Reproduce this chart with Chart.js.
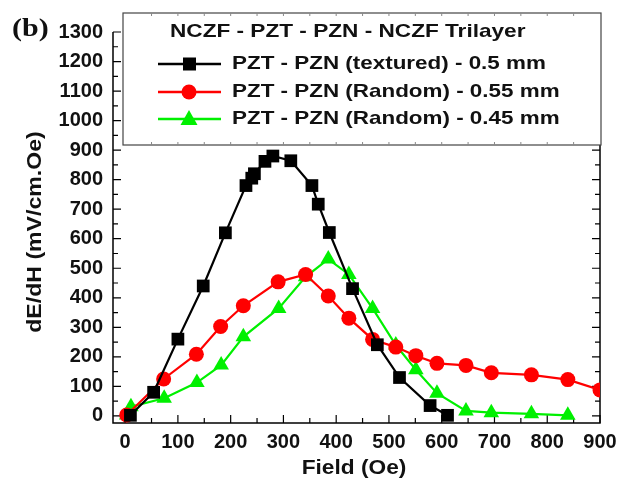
<!DOCTYPE html>
<html>
<head>
<meta charset="utf-8">
<script src="https://cdn.jsdelivr.net/npm/chart.js@4.4.1/dist/chart.umd.min.js"></script>
<style>
  html, body { margin: 0; padding: 0; background: #fff; }
  #wrap { width: 630px; height: 481px; }
</style>
</head>
<body>
<div id="wrap"><canvas id="chart" width="630" height="481"></canvas></div>
<script>
// values
const texturedField = [10, 54, 100, 148, 190, 229, 240, 245, 265, 280, 314, 354, 366, 387, 431, 478, 520, 578, 611];
const texturedValues = [2, 80, 260, 440, 620, 780, 805, 820, 862, 880, 864, 780, 717, 621, 431, 241, 130, 35, 2];

const random055Field = [3, 73, 135, 181, 224, 290, 342, 385, 424, 469, 513, 551, 591, 646, 694, 770, 839, 900];
const random055Values = [3, 125, 209, 303, 373, 454, 479, 406, 331, 259, 233, 204, 178, 171, 146, 139, 123, 88];

const random045Field = [3, 11, 74, 136, 182, 224, 291, 342, 385, 424, 469, 513, 551, 591, 646, 694, 770, 839];
const random045Values = [3, 31, 60, 113, 172, 268, 364, 471, 531, 479, 364, 240, 156, 77, 17, 11, 7, 2];

const seriesLabels = [
  'PZT - PZN (textured) - 0.5 mm',
  'PZT - PZN (Random) - 0.55 mm',
  'PZT - PZN (Random) - 0.45 mm'
];
const legendTitle = 'NCZF - PZT - PZN - NCZF Trilayer';
const xTitle = 'Field (Oe)';
const yTitle = 'dE/dH (mV/cm.Oe)';
const xTicks = [0, 100, 200, 300, 400, 500, 600, 700, 800, 900];
const yTicks = [0, 100, 200, 300, 400, 500, 600, 700, 800, 900, 1000, 1100, 1200, 1300];

const FONT = '"Liberation Sans", Arial, sans-serif';

function toPoints(xs, ys) {
  return xs.map((x, i) => ({ x: x, y: ys[i] }));
}

// text squeezed wider, like the original figure's lettering
function wideText(ctx, text, x, y, sx, rot) {
  ctx.save();
  ctx.translate(x, y);
  if (rot) ctx.rotate(rot);
  ctx.scale(sx, 1);
  ctx.fillText(text, 0, 0);
  ctx.restore();
}

// frame with inward ticks, legend box, axis titles and panel letter
const decorations = {
  id: 'decorations',
  beforeDatasetsDraw(chart) {
    const ctx = chart.ctx;
    const a = chart.chartArea;
    const xs = chart.scales.x, ys = chart.scales.y;
    ctx.save();
    ctx.strokeStyle = '#000';
    ctx.lineWidth = 1.5;
    ctx.beginPath();
    ctx.moveTo(a.left, a.top); ctx.lineTo(a.left, a.bottom); ctx.lineTo(a.right, a.bottom); ctx.lineTo(a.right, a.top);
    ctx.stroke();
    ctx.lineWidth = 1.2;
    ctx.beginPath();
    for (let v = 0; v <= 900; v += 50) {
      const px = xs.getPixelForValue(v);
      const len = v % 100 === 0 ? 8 : 5;
      ctx.moveTo(px, a.bottom); ctx.lineTo(px, a.bottom - len);
    }
    for (let v = 0; v <= 1300; v += 50) {
      const py = ys.getPixelForValue(v);
      const len = v % 100 === 0 ? 8 : 5;
      ctx.moveTo(a.left, py); ctx.lineTo(a.left + len, py);
      ctx.moveTo(a.right, py); ctx.lineTo(a.right - len, py);
    }
    ctx.stroke();
    ctx.restore();
  },
  afterDraw(chart) {
    const ctx = chart.ctx;
    const a = chart.chartArea;
    const xs = chart.scales.x;
    const box = { left: 123, top: 13, right: 601, bottom: 145 };
    ctx.save();
    ctx.fillStyle = '#fff';
    ctx.fillRect(box.left, box.top, box.right - box.left, box.bottom - box.top);
    ctx.strokeStyle = '#444';
    ctx.lineWidth = 1.2;
    ctx.strokeRect(box.left, box.top, box.right - box.left, box.bottom - box.top);
    ctx.strokeStyle = '#888';
    ctx.lineWidth = 1;
    ctx.beginPath();
    for (let v = 50; v < 900; v += 50) {
      const px = xs.getPixelForValue(v);
      ctx.moveTo(px, box.top); ctx.lineTo(px, box.top + 3);
      ctx.moveTo(px, box.bottom); ctx.lineTo(px, box.bottom - 3);
    }
    ctx.stroke();

    ctx.fillStyle = '#111';
    ctx.textBaseline = 'middle';
    ctx.textAlign = 'left';
    ctx.font = 'bold 19px ' + FONT;
    wideText(ctx, legendTitle, 170, 32, 1.19);

    const rowsY = [64, 92, 119];
    chart.data.datasets.forEach((ds, i) => {
      const y = rowsY[i];
      ctx.strokeStyle = ds.borderColor;
      ctx.lineWidth = 2.5;
      ctx.beginPath();
      ctx.moveTo(158, y); ctx.lineTo(221, y);
      ctx.stroke();
      ctx.fillStyle = ds.pointBackgroundColor;
      ctx.beginPath();
      if (ds.pointStyle === 'rect') {
        ctx.rect(183, y - 6.5, 13, 13);
      } else if (ds.pointStyle === 'circle') {
        ctx.arc(189, y, 7.5, 0, Math.PI * 2);
      } else {
        ctx.moveTo(189, y - 9); ctx.lineTo(197.5, y + 6); ctx.lineTo(180.5, y + 6); ctx.closePath();
      }
      ctx.fill();
      ctx.fillStyle = '#111';
      wideText(ctx, ds.label, 232, y, 1.18);
    });

    // axis titles
    ctx.font = 'bold 21px ' + FONT;
    ctx.textAlign = 'center';
    wideText(ctx, xTitle, 354, 468, 1.08);
    wideText(ctx, yTitle, 35, 232, 1.1, -Math.PI / 2);

    ctx.textAlign = 'left';
    ctx.font = 'bold 25px "Liberation Serif", "Times New Roman", serif';
    wideText(ctx, '(b)', 12, 30, 1.2);
    ctx.restore();
  }
};

const tickFont = { family: FONT, size: 20, weight: 'bold' };

new Chart(document.getElementById('chart'), {
  type: 'line',
  data: {
    datasets: [
      {
        label: seriesLabels[0],
        data: toPoints(texturedField, texturedValues),
        borderColor: '#000', backgroundColor: '#000', pointBackgroundColor: '#000',
        pointStyle: 'rect', pointRadius: 9, pointBorderWidth: 0, borderWidth: 2.2
      },
      {
        label: seriesLabels[1],
        data: toPoints(random055Field, random055Values),
        borderColor: '#ff0000', backgroundColor: '#ff0000', pointBackgroundColor: '#ff0000',
        pointStyle: 'circle', pointRadius: 7.5, pointBorderWidth: 0, borderWidth: 2.2
      },
      {
        label: seriesLabels[2],
        data: toPoints(random045Field, random045Values),
        borderColor: '#00f000', backgroundColor: '#00f000', pointBackgroundColor: '#00f000',
        pointStyle: 'triangle', pointRadius: 9, pointBorderWidth: 0, borderWidth: 2.2
      }
    ]
  },
  options: {
    responsive: false,
    animation: false,
    devicePixelRatio: 1,
    layout: { padding: { top: 32, right: 30, left: 0, bottom: 0 } },
    plugins: { legend: { display: false }, tooltip: { enabled: false } },
    scales: {
      x: {
        type: 'linear',
        min: -23, max: 900,
        afterBuildTicks: s => { s.ticks = xTicks.map(v => ({ value: v })); },
        afterFit: s => { s.height = 58; },
        grid: { display: false, drawTicks: false },
        border: { display: false },
        ticks: { color: '#111', padding: 7, maxRotation: 0, font: tickFont, callback: v => String(v) }
      },
      y: {
        type: 'linear',
        min: -24, max: 1300,
        afterBuildTicks: s => { s.ticks = yTicks.map(v => ({ value: v })); },
        afterFit: s => { s.width = 113; },
        grid: { display: false, drawTicks: false },
        border: { display: false },
        ticks: { color: '#111', padding: 10, font: tickFont, callback: v => String(v) }
      }
    }
  },
  plugins: [decorations]
});
</script>
</body>
</html>
